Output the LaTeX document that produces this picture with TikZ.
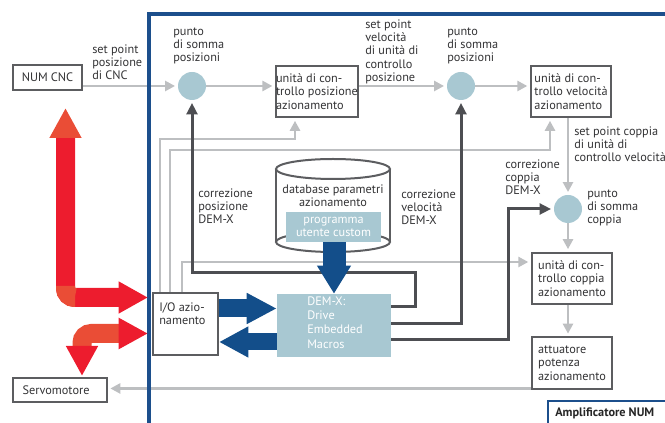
\documentclass[tikz,border=0pt]{standalone}
\usepackage{fontspec}
\setmainfont{PT Sans}
\usetikzlibrary{arrows.meta,calc}
\definecolor{frameblue}{HTML}{1C4F8C}
\definecolor{arrblue}{HTML}{134E8A}
\definecolor{lblue}{HTML}{A8C8D2}
\definecolor{redA}{HTML}{ED1C2E}
\definecolor{orangeA}{HTML}{EA4D36}
\definecolor{lgray}{HTML}{BDBFC1}
\definecolor{dgray}{HTML}{4D4E52}
\definecolor{bgray}{HTML}{5C5D60}
\definecolor{txt}{HTML}{333335}
\newcommand\lblfont{\fontsize{9.2}{10}\selectfont}
\newcommand\demfont{\fontsize{9.2}{10.7}\selectfont}
\begin{document}
\begin{tikzpicture}[x=0.75pt,y=-0.75pt,
  lbl/.style={anchor=north west, inner sep=0, align=left, font=\lblfont, text=txt},
  blk/.style={draw=bgray, line width=1.5pt, fill=white, font=\lblfont, text=txt, inner sep=0},
  unit/.style={blk, minimum width=60pt, minimum height=38.5pt, align=left},
  sum/.style={circle, fill=lblue, minimum size=21pt, inner sep=0},
  gline/.style={draw=lgray, line width=1.9pt, -{Triangle[length=7.5pt,width=7.5pt]}, shorten >=2pt},
  dline/.style={draw=dgray, line width=2.25pt, -{Triangle[length=8.5pt,width=8pt]}, shorten >=2pt},
  cyl/.style={draw=bgray, line width=1.5pt},
  redarrow/.style={line width=14.25pt, rounded corners=7pt},
]
\useasboundingbox (0,0) rectangle (665,423);

% ---------- nodes ----------
\node[blk, minimum width=51.75pt, minimum height=18.75pt] (cnc) at (47.5,77.5) {NUM CNC};
\node[blk, text width=56pt, inner xsep=7pt, minimum height=18pt, align=left] (serv) at (60,390) {Servomotore};
\node[sum] (s1) at (192,86) {};
\node[sum] (s2) at (461,86) {};
\node[sum] (s3) at (568,209) {};
\node[unit] (upos) at (317,91.5) {unità di con-\\trollo posizione\\azionamento};
\node[unit] (uvel) at (571,91.5) {unità di con-\\trollo velocità\\azionamento};
\node[unit] (ucop) at (572,278.5) {unità di con-\\trollo coppia\\azionamento};
\node[unit] (uatt) at (572,363) {attuatore\\potenza\\azionamento};
\node[blk, minimum width=48.75pt, minimum height=46.5pt] (io) at (185.5,324) {};
\node[fill=lblue, minimum width=85.5pt, minimum height=47.25pt, inner sep=0] (dem) at (334,325.5) {};

% ---------- gray connectors ----------
\draw[gline] (cnc.east |- s1) -- (s1);
\draw[gline] (s1) -- (s1 -| upos.west);
\draw[gline] (upos.east |- s1) -- (s2);
\draw[gline] (s2) -- (s2 -| uvel.west);
\draw[gline] (s3 |- uvel.south) -- (s3);
\draw[gline] (s3) -- (s3 |- ucop.north);
\draw[gline] (s3 |- ucop.south) -- (s3 |- uatt.north);
\coordinate (sv) at ($(uatt.south west)+(0,-1.2)$);
\draw[gline] (sv) -- (serv.east |- sv);
\coordinate (g1) at (160,139); \coordinate (g1e) at (295,139);
\draw[gline] (g1 |- io.north) -- (g1) -- (g1e) -- (g1e |- upos.south);
\coordinate (g2) at (170,150); \coordinate (g2e) at (550,150);
\draw[gline] (g2 |- io.north) -- (g2) -- (g2e) -- (g2e |- uvel.south);
\coordinate (g3) at (182,262);
\draw[gline] (g3 |- io.north) -- (g3) -- (g3 -| ucop.west);

% ---------- dark connectors ----------
\coordinate (d1a) at (415,307); \coordinate (d1b) at (415,273); \coordinate (d1c) at (192,273);
\draw[dline] (d1a -| dem.east) -- (d1a) -- (d1b) -- (d1c) -- (s1);
\coordinate (d2a) at (461,324);
\draw[dline] (d2a -| dem.east) -- (d2a) -- (s2);
\coordinate (d3a) at (508,340); \coordinate (d3b) at (508,209);
\draw[dline] (d3a -| dem.east) -- (d3a) -- (d3b) -- (s3);

% ---------- frame ----------
\draw[frameblue, line width=2.6pt] (149,430) -- (149,14) -- (670,14);
\fill[white] (548,401) rectangle (670,430);
\draw[frameblue, line width=2pt] (548,430) -- (548,401) -- (670,401);
\node[anchor=base west, inner sep=0, font=\lblfont\bfseries, text=black!85] (amp) at (555,417) {Amplificatore NUM};

% ---------- database cylinder ----------
\fill[white] (276,169) rectangle (390,242);
\draw[cyl] (276,169) -- (276,242) (390,169) -- (390,242);
\draw[cyl, fill=white] (333,169) ellipse [x radius=42.75pt, y radius=7.5pt];
\draw[cyl] (333,242) ellipse [x radius=42.75pt, y radius=7.5pt];
\node[anchor=north, inner sep=0, align=center, font=\lblfont, text=txt] (db) at (333,183.7) {\strut database parametri\\azionamento};
\node[fill=lblue, minimum width=71.25pt, minimum height=22.5pt, inner sep=0, align=center, text=white, font=\lblfont] (prog) at (333.5,227) {programma\\utente custom};

% ---------- box texts ----------
\node[lbl] (iot) at (159,301.7) {\strut I/O azio-\\namento};
\node[anchor=north west, inner sep=0, align=left, font=\demfont, text=white] (demt) at (307,295) {\strut DEM-X:\\Drive\\Embedded\\Macros};

% ---------- blue arrows ----------
\coordinate (b1) at (0,308.5); \coordinate (b2) at (0,342);
\draw[arrblue, line width=13.5pt, -{Triangle[length=22.5pt,width=21.75pt]}] (io.east |- b1) -- (dem.west |- b1);
\draw[arrblue, line width=12.75pt, -{Triangle[length=22pt,width=21.75pt]}] (dem.west |- b2) -- (io.east |- b2);
\draw[arrblue, line width=17.25pt, -{Triangle[length=21pt,width=24pt]}] (prog.south -| dem.north) -- (dem.north);

% ---------- red arrows ----------
\coordinate (r1t) at (65.5,108); \coordinate (r1e) at (148,297.5);
\draw[redA, redarrow, {Triangle[length=22.5pt,width=22.5pt,color=orangeA]}-{Triangle[length=22pt,width=22.5pt]}] (r1t) |- (r1e);
\draw[orangeA, redarrow] (65.5,286) |- (75,297.5);
\coordinate (r2e) at (148,333.5); \coordinate (r2b) at (82,376);
\draw[orangeA, redarrow, {Triangle[length=22pt,width=22pt,color=redA]}-{Triangle[length=22.5pt,width=22.5pt,color=redA]}] (r2e) -| (r2b);

% ---------- labels ----------
\node[lbl] (l1) at (92,43.7) {\strut set point\\posizione\\di CNC};
\node[lbl] (l2) at (173,25.7) {\strut punto\\di somma\\posizioni};
\node[lbl] (l3) at (365,18.7) {\strut set point\\velocità\\di unità di\\controllo\\posizione};
\node[lbl] (l4) at (447,25.7) {\strut punto\\di somma\\posizioni};
\node[lbl] (l5) at (574,125.7) {\strut set point coppia\\di unità di\\controllo velocità};
\node[lbl] (l6) at (505,158.7) {\strut correzione\\coppia\\DEM-X};
\node[lbl] (l7) at (587,187.7) {\strut punto\\di somma\\coppia};
\node[lbl] (l8) at (198,187.7) {\strut correzione\\posizione\\DEM-X};
\node[lbl] (l9) at (401,188.7) {\strut correzione\\velocità\\DEM-X};
\end{tikzpicture}
\end{document}
